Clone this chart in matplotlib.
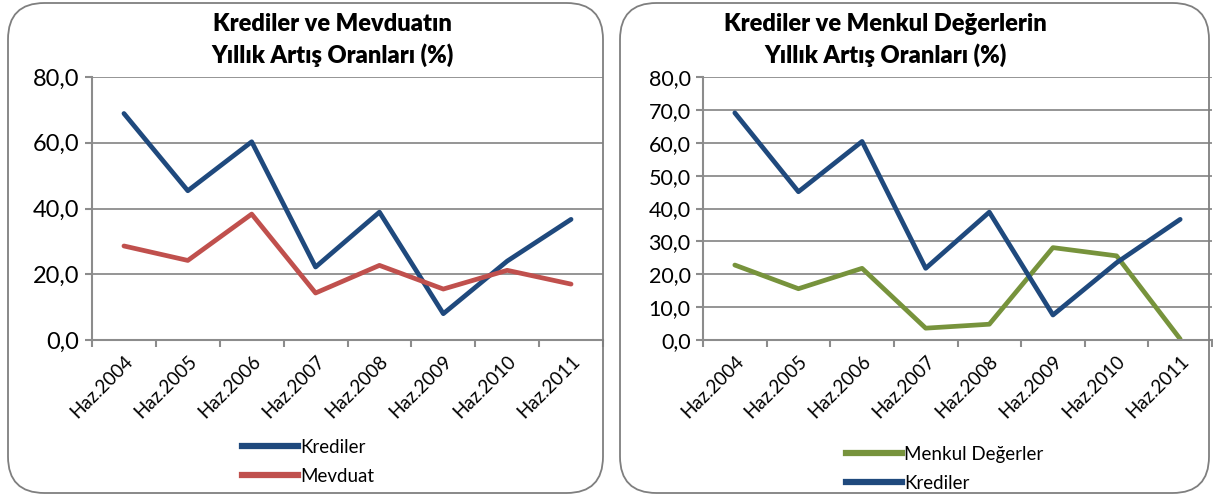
import matplotlib
matplotlib.use("Agg")
import matplotlib.pyplot as plt
from matplotlib.patches import FancyBboxPatch
from matplotlib.lines import Line2D

categories = ["Haz.2004", "Haz.2005", "Haz.2006", "Haz.2007",
              "Haz.2008", "Haz.2009", "Haz.2010", "Haz.2011"]
krediler_left = [68.9, 45.4, 60.3, 22.2, 38.9, 8.0, 24.0, 36.7]
mevduat = [28.6, 24.2, 38.3, 14.3, 22.7, 15.5, 21.2, 17.0]
krediler_right = [69.1, 45.1, 60.4, 21.8, 38.9, 7.6, 23.5, 36.7]
menkul = [22.8, 15.6, 21.8, 3.6, 4.8, 28.1, 25.6, 0.3]

left_title = "Krediler ve Mevduatın\nYıllık Artış Oranları (%)"
right_title = "Krediler ve Menkul Değerlerin\nYıllık Artış Oranları (%)"

C_KRED = "#1F497D"
C_MEV = "#C0504D"
C_MENK = "#77933C"
GRID = "#8C8C8C"

plt.rcParams['font.family'] = ['Lato', 'DejaVu Sans']

W, H = 1213, 500
fig = plt.figure(figsize=(W / 100, H / 100), dpi=100)

def fx(px):
    return px / W

def fy(py):
    return 1 - py / H

# panel borders
for x0, x1 in [(8, 603), (620, 1209)]:
    p = FancyBboxPatch((fx(x0), fy(493)), fx(x1 - x0), (493 - 3) / H,
                       boxstyle="round,pad=0,rounding_size=0.03",
                       transform=fig.transFigure, fill=False,
                       edgecolor="#7F7F7F", linewidth=1.3,
                       mutation_aspect=W / H)
    fig.add_artist(p)


def make_panel(x_left, x_right, series, yticks, title, title_cx, leg_x, leg_y,
               ytick_fs, xtick_fs):
    ax = fig.add_axes([fx(x_left), fy(340), fx(x_right - x_left), (340 - 77) / H])
    xs = list(range(len(categories)))
    for vals, color, label in series:
        ax.plot(xs, vals, color=color, lw=3.4, solid_capstyle='round',
                solid_joinstyle='round', label=label)
    ax.set_xlim(-0.5, len(categories) - 0.5)
    ax.set_ylim(0, 80)
    ax.set_yticks(yticks)
    ax.set_yticklabels([f"{v:.1f}".replace(".", ",") for v in yticks],
                       fontsize=ytick_fs)
    ax.yaxis.grid(True, color=GRID, lw=1.3)
    ax.set_axisbelow(True)
    ax.set_xticks(xs)
    ax.set_xticklabels(categories, rotation=45, ha='right', va='top',
                       rotation_mode='anchor', fontsize=xtick_fs)
    ax.tick_params(axis='x', length=0, pad=9)
    ax.set_xticks([i - 0.5 for i in range(len(categories) + 1)], minor=True)
    ax.tick_params(axis='x', which='minor', length=5, color=GRID, width=1.5)
    ax.tick_params(axis='y', length=5, color=GRID, width=1.5, pad=4)
    for s in ['top', 'right']:
        ax.spines[s].set_visible(False)
    for s in ['left', 'bottom']:
        ax.spines[s].set_color(GRID)
        ax.spines[s].set_linewidth(1.5)
    ax.patch.set_alpha(0)
    fig.text(fx(title_cx), fy(40), title, ha='center', va='center',
             fontsize=17, fontweight='heavy', linespacing=1.4)
    handles = [Line2D([], [], color=c, lw=4.5) for _, c, _ in series]
    labels = [l for _, _, l in series]
    fig.legend(handles, labels, loc='upper left',
               bbox_to_anchor=(fx(leg_x), fy(leg_y)), frameon=False,
               fontsize=13.5, handlelength=3.0, handletextpad=0.1,
               labelspacing=0.62, borderpad=0, borderaxespad=0)
    return ax


make_panel(92, 603,
           [(krediler_left, C_KRED, "Krediler"), (mevduat, C_MEV, "Mevduat")],
           [0, 20, 40, 60, 80], left_title, 332, 242, 439, 17, 13.5)
make_panel(703, 1212,
           [(menkul, C_MENK, "Menkul Değerler"), (krediler_right, C_KRED, "Krediler")],
           [0, 10, 20, 30, 40, 50, 60, 70, 80], right_title, 885, 846, 446, 15.5, 13.5)

fig.savefig("out.png", dpi=100)
